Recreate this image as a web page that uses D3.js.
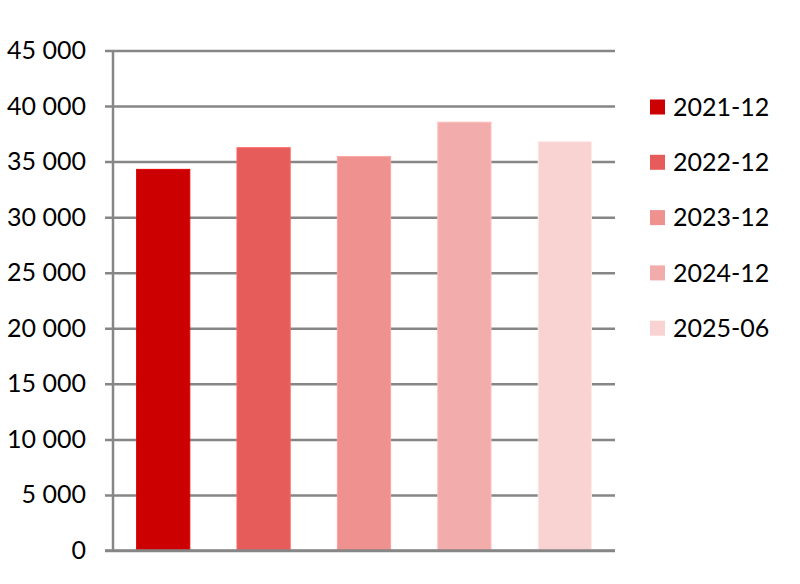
<!DOCTYPE html>
<html>
<head>
<meta charset="utf-8">
<script src="https://cdn.jsdelivr.net/npm/d3@7"></script>
<style>
  body { margin: 0; background: #fff; }
  text { font-family: Lato, "Open Sans", sans-serif; fill: #000; }
</style>
</head>
<body>
<svg id="chart" width="800" height="584"></svg>
<script>
// Data
const periods = ["2021-12", "2022-12", "2023-12", "2024-12", "2025-06"];
const values = [34300, 36250, 35450, 38550, 36800];
const colors = ["#cc0000", "#e65c5a", "#ee918f", "#f2acab", "#f9d3d2"];
const yTicks = [0, 5000, 10000, 15000, 20000, 25000, 30000, 35000, 40000, 45000];

const svg = d3.select("#chart");
const margin = { left: 113, right: 185, top: 50.5, bottom: 33.5 };
const width = +svg.attr("width");
const height = +svg.attr("height");

const x = d3.scaleBand()
  .domain(periods)
  .range([margin.left, width - margin.right])
  .paddingInner(0.47)
  .paddingOuter(0.235);

const y = d3.scaleLinear()
  .domain([0, 45000])
  .range([height - margin.bottom, margin.top]);

const fmt = v => d3.format(",")(v).replace(/,/g, " ");

// ---------- GRID + Y AXIS ----------
const yAxis = d3.axisLeft(y)
  .tickValues(yTicks)
  .tickSize(-(width - margin.right - margin.left))
  .tickSizeOuter(0)
  .tickFormat(fmt)
  .tickPadding(27);

const gy = svg.append("g")
  .attr("transform", `translate(${margin.left},0)`)
  .call(yAxis);

gy.select(".domain").remove();
gy.selectAll(".tick line")
  .attr("x1", -8)
  .attr("stroke", "#868686")
  .attr("stroke-width", 2.5);
gy.selectAll(".tick text")
  .style("font-size", "25px")
  .attr("fill", "#000");

// ---------- BARS ----------
svg.append("g")
  .selectAll("rect")
  .data(periods)
  .enter()
  .append("rect")
  .attr("x", d => x(d))
  .attr("width", x.bandwidth())
  .attr("y", (d, i) => y(values[i]))
  .attr("height", (d, i) => y(0) - y(values[i]))
  .attr("fill", (d, i) => colors[i])
  .attr("stroke", (d, i) => d3.color(colors[i]).brighter(0.3))
  .attr("stroke-width", 1);

// vertical axis line
svg.append("line")
  .attr("x1", margin.left).attr("x2", margin.left)
  .attr("y1", y(45000)).attr("y2", y(0) + 1)
  .attr("stroke", "#868686")
  .attr("stroke-width", 2.5);

// bottom line on top of bars
svg.append("line")
  .attr("x1", margin.left - 8).attr("x2", width - margin.right)
  .attr("y1", y(0)).attr("y2", y(0))
  .attr("stroke", "#868686")
  .attr("stroke-width", 2.5);

// ---------- LEGEND ----------
const legend = svg.append("g")
  .attr("transform", "translate(650, 107)");

const item = legend.selectAll("g")
  .data(periods)
  .enter()
  .append("g")
  .attr("transform", (d, i) => `translate(0, ${i * 55.3})`);

item.append("rect")
  .attr("x", 0)
  .attr("y", -7.5)
  .attr("width", 15)
  .attr("height", 15)
  .attr("fill", (d, i) => colors[i]);

item.append("text")
  .attr("x", 23)
  .attr("dy", "0.35em")
  .style("font-size", "25px")
  .text(d => d);
</script>
</body>
</html>
